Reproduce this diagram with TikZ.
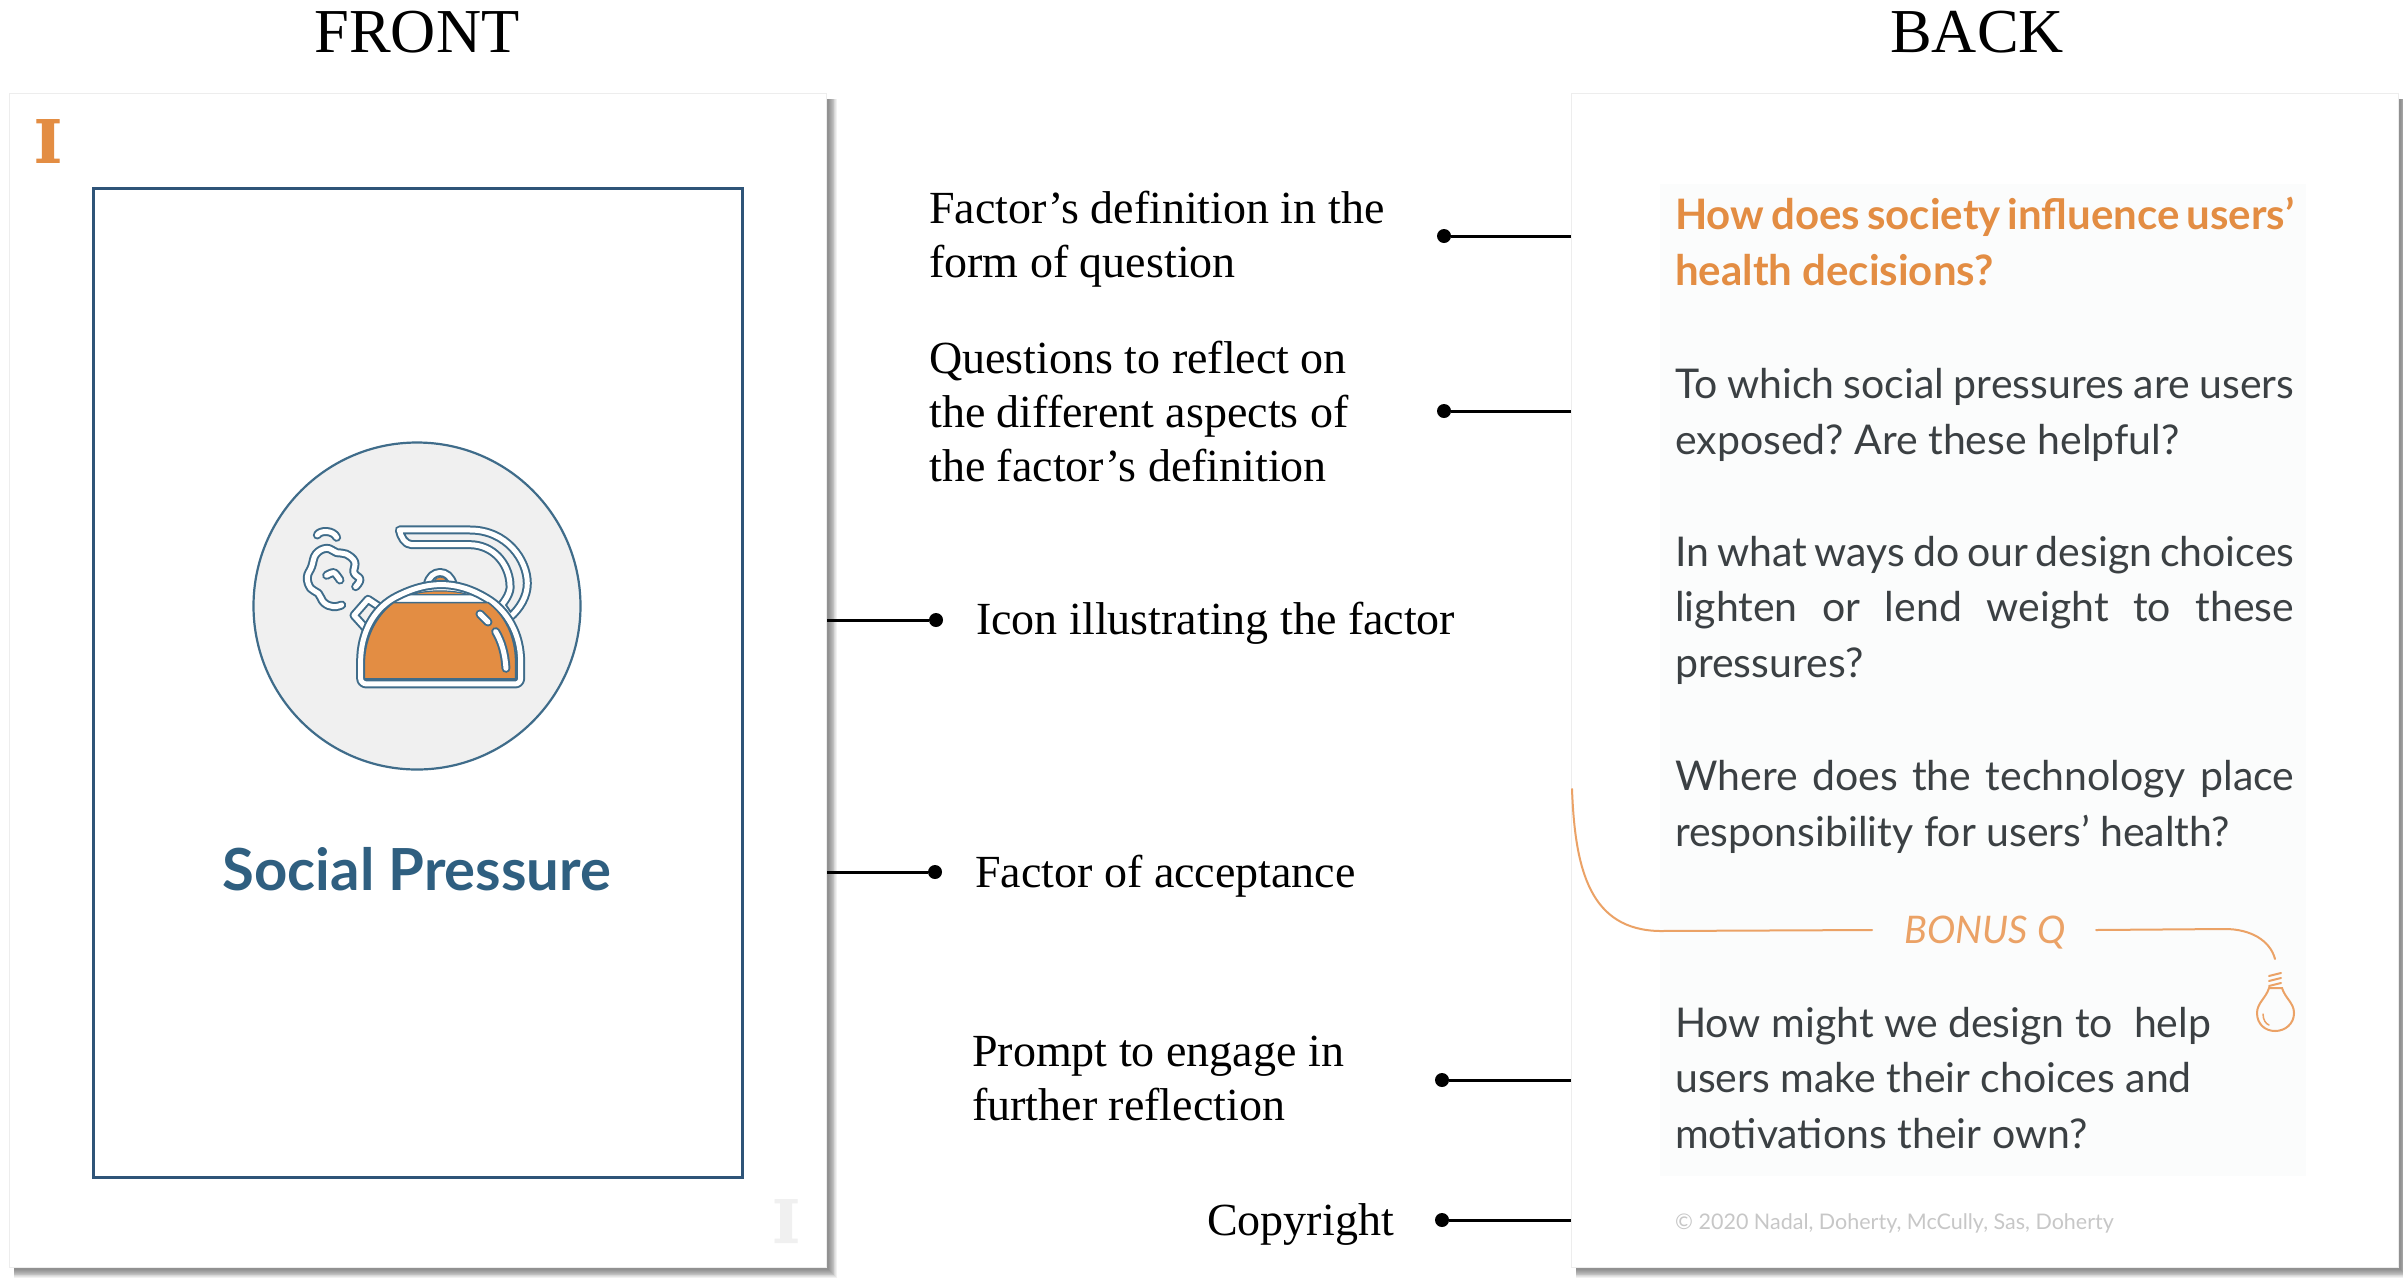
\documentclass[tikz,border=0pt]{standalone}
\usepackage{fontspec}
\setmainfont{Liberation Serif}
\newfontfamily\cardfont{Lato}
\newfontfamily\slabfont[BoldFont={DejaVu Serif Bold},BoldFeatures={FakeBold=1.6}]{DejaVu Serif}
\frenchspacing
\definecolor{kblue}{HTML}{3F6C8A}
\definecolor{navy}{HTML}{2F5478}
\definecolor{titleblue}{HTML}{2F5F80}
\definecolor{korange}{HTML}{E38D43}
\definecolor{lorange}{HTML}{EBA266}
\definecolor{kgrey}{HTML}{F0F0F0}
\definecolor{ink}{HTML}{3B4043}
\definecolor{panelc}{HTML}{FBFCFC}
\newcommand{\cardshadow}[4]{%
  \foreach \i in {9,...,0}{
    \fill[black,opacity=.055] (#1+5,#2+6) rectangle (#3+3+\i*.9,#4+3+\i*.9);
  }}
\tikzset{
  cardbox/.style={draw=black!7,line width=1pt,fill=white,inner sep=0,anchor=north west},
  head/.style={font=\fontsize{62.5}{62.5}\selectfont,anchor=base,inner sep=0},
  note/.style={font=\fontsize{46}{54}\selectfont,align=left,anchor=base west,inner sep=0},
  dotmark/.style={circle,fill=black,inner sep=0,minimum size=14pt},
  leader/.style={draw=black,line width=3pt},
  back/.style={font=\cardfont\fontsize{41}{55.5}\selectfont,text=ink,align=left,anchor=base west,inner sep=0},
  backhead/.style={font=\cardfont\bfseries\fontsize{42}{55.5}\selectfont,text=korange,align=left,anchor=base west,inner sep=0},
  slab/.style={font=\slabfont\bfseries\fontsize{59}{59}\selectfont,inner sep=0},
  tube/.style={draw=kblue,line width=2pt,double=white,double distance=5pt,line cap=round,line join=round},
  thinline/.style={draw=lorange,line width=2pt,line cap=round},
}
\begin{document}
\begin{tikzpicture}[x=1pt,y=-1pt]
\useasboundingbox (0,0) rectangle (2403,1286);
% cards
\cardshadow{9}{93}{826}{1267}
\cardshadow{1571}{93}{2398}{1267}
\node[cardbox,minimum width=817pt,minimum height=1174pt] (front) at (9,93) {};
\node[cardbox,minimum width=827pt,minimum height=1174pt] (back) at (1571,93) {};
\node[anchor=north west,fill=panelc,inner sep=0,minimum width=646pt,minimum height=992pt] (panel) at (1660,184) {};
% headings
\node[head] (fronttitle) at (417,52) {FRONT};
\node[head] (backtitle) at (1977,52) {BACK};
% front face
\node[anchor=north west,draw=navy,line width=2.6pt,inner sep=0,minimum width=649pt,minimum height=989pt] (frame) at (92,187) {};
\node[slab,text=korange] (mark) at (48,141) {I};
\node[slab,text=kgrey] (markb) at (786,1221) {I};
\node[circle,draw=kblue,fill=kgrey,line width=2.2pt,minimum size=327pt,inner sep=0] (disc) at (417,606) {};
\begin{scope}[shift={(230,420)},x=.3333pt,y=-.3333pt]
  % steam
  \draw[tube] (262,345) .. controls (270,330) and (310,330) .. (320,352);
  \draw[tube] plot[smooth,tension=.7] coordinates {(377,500) (390,478) (372,458) (374,425) (348,402) (320,398) (290,385) (258,402) (245,440) (232,472) (242,505) (265,520) (282,548) (310,560) (335,555)};
  \draw[tube] plot[smooth] coordinates {(290,466) (312,458) (330,480)};
  % handle
  \draw[tube,fill=kgrey] (508,330) -- (720,330) .. controls (830,330) and (892,420) .. (892,490) .. controls (892,530) and (870,565) .. (840,592) -- (815,555) .. controls (835,530) and (843,510) .. (840,490) .. controls (835,430) and (790,375) .. (720,374) -- (545,374) .. controls (525,374) and (512,350) .. (508,330) -- cycle;
  % spout
  \draw[tube,fill=kgrey] (414,538) -- (372,586) -- (408,626) -- (455,565) -- cycle;
  % knob
  \draw[tube,fill=white] (592,495) .. controls (600,445) and (660,445) .. (670,495);
  \fill[korange,draw=kblue,line width=.8pt] (614,482) .. controls (620,468) and (642,468) .. (650,482) -- cycle;
  % dome
  \draw[tube,fill=white] (392,775) -- (392,725) .. controls (392,640) and (430,570) .. (490,535) .. controls (590,480) and (680,480) .. (770,535) .. controls (830,570) and (872,640) .. (872,725) -- (872,775) .. controls (872,785) and (865,792) .. (855,792) -- (410,792) .. controls (400,792) and (392,785) .. (392,775) -- cycle;
  \fill[korange,draw=kblue,line width=1.6pt] (403,777) -- (403,725) .. controls (405,650) and (440,585) .. (490,548) -- (775,548) .. controls (825,585) and (857,650) .. (857,725) -- (857,777) -- cycle;
  \fill[korange,draw=kblue,line width=1.2pt] (545,524) .. controls (590,509) and (670,509) .. (715,524) -- cycle;
  % highlights
  \draw[tube] (750,582) -- (774,606);
  \draw[tube] (797,635) .. controls (815,665) and (825,700) .. (828,745);
\end{scope}
\node[font=\cardfont\bfseries\fontsize{58}{58}\selectfont,text=titleblue,anchor=base,inner sep=0] (factor) at (417,890) {Social Pressure};
% back face
\node[backhead] (qhead) at (1675,285) {\makebox[619pt][s]{How does society influence users’}\\health decisions?};
\node[back] (q1) at (1675,454) {\makebox[619pt][s]{To which social pressures are users}\\exposed? Are these helpful?};
\node[back] (q2) at (1675,677) {\makebox[619pt][s]{In what ways do our design choices}\\\makebox[619pt][s]{lighten or lend weight to these}\\pressures?};
\node[back] (q3) at (1675,846) {\makebox[619pt][s]{Where does the technology place}\\responsibility for users’ health?};
\node[back] (q4) at (1675,1148) {How might we design to\ \ help\\users make their choices and\\motivations their own?};
\node[font=\cardfont\fontsize{21.5}{21.5}\selectfont,text=black!22,anchor=base west,inner sep=0] (copy) at (1675,1229) {© 2020 Nadal, Doherty, McCully, Sas, Doherty};
% bonus ribbon
\node[font=\cardfont\itshape\fontsize{38}{38}\selectfont,text=lorange,anchor=base,inner sep=0] (bonus) at (1985,943) {BONUS Q};
\coordinate (ribbonstart) at (1572,789);
\coordinate (ribbonl) at (1872,930);
\coordinate (ribbonr) at (2096,930);
\coordinate (ribbonend) at (2275,959);
\draw[thinline] (ribbonstart) .. controls (1575,870) and (1590,930) .. (1660,931) -- (ribbonl);
\draw[thinline] (ribbonr) -- (2225,929) .. controls (2250,929) and (2270,940) .. (ribbonend);
% bulb
\draw[thinline] (2269,988) .. controls (2266,998) and (2257,1003) .. (2257,1013) .. controls (2257,1024) and (2265,1031) .. (2275,1031) .. controls (2285,1031) and (2294,1024) .. (2294,1013) .. controls (2294,1003) and (2285,998) .. (2282,988) -- cycle;
\draw[thinline] (2269,976) -- (2281,973) (2269,981) -- (2281,978) (2269,986) -- (2281,983);
\draw[thinline,line width=1.5pt] (2263,1014) .. controls (2263,1020) and (2266,1024) .. (2269,1025);
% notes and connectors
\node[note] (n1) at (929,277) {Factor’s definition in the\\form of question};
\node[note] (n2) at (929,481) {Questions to reflect on\\the different aspects of\\the factor’s definition};
\node[note] (n3) at (976,634) {Icon illustrating the factor};
\node[note] (n4) at (975,887) {Factor of acceptance};
\node[note] (n5) at (972,1120) {Prompt to engage in\\further reflection};
\node[note,anchor=base east] (n6) at (1394,1235) {Copyright};
\node[dotmark] (d1) at (1444,236) {};
\node[dotmark] (d2) at (1444,411) {};
\node[dotmark] (d3) at (936,620) {};
\node[dotmark] (d4) at (935,872) {};
\node[dotmark] (d5) at (1442,1080) {};
\node[dotmark] (d6) at (1442,1220) {};
\draw[leader] (d1) -- (d1 -| back.west);
\draw[leader] (d2) -- (d2 -| back.west);
\draw[leader] (d3) -- (d3 -| front.east);
\draw[leader] (d4) -- (d4 -| front.east);
\draw[leader] (d5) -- (d5 -| back.west);
\draw[leader] (d6) -- (d6 -| back.west);
\end{tikzpicture}
\end{document}
